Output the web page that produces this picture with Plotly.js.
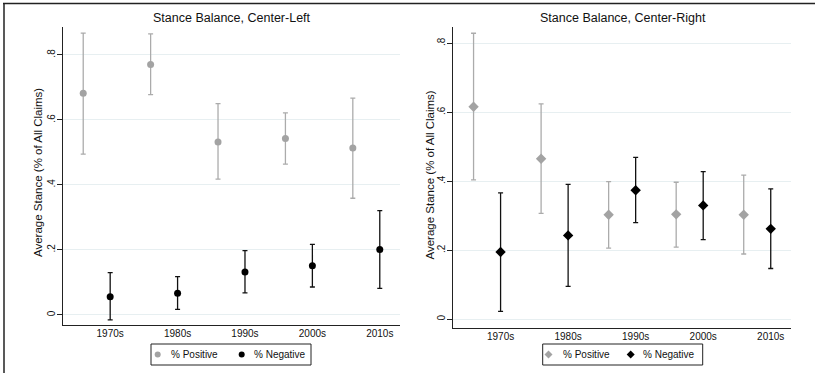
<!DOCTYPE html>
<html><head><meta charset="utf-8">
<script src="https://cdn.plot.ly/plotly-3.0.1.min.js"></script>
<style>html,body{margin:0;padding:0;background:#fff}#chart{width:815px;height:373px}</style>
</head><body><div id="chart"></div>
<script>
// ---- data ----
const decades = ['1970s', '1980s', '1990s', '2000s', '2010s'];
const yTickVals = [0, 0.2, 0.4, 0.6, 0.8];
const yTickText = ['0', '.2', '.4', '.6', '.8'];
const seriesNames = ['% Positive', '% Negative'];

// Center-Left
const leftPosMean = [0.682, 0.771, 0.532, 0.543, 0.514];
const leftPosLo   = [0.495, 0.678, 0.418, 0.464, 0.359];
const leftPosHi   = [0.867, 0.865, 0.650, 0.622, 0.667];
const leftNegMean = [0.056, 0.067, 0.132, 0.151, 0.201];
const leftNegLo   = [-0.015, 0.017, 0.068, 0.086, 0.082];
const leftNegHi   = [0.130, 0.118, 0.198, 0.217, 0.321];

// Center-Right
const rightPosMean = [0.616, 0.465, 0.303, 0.304, 0.303];
const rightPosLo   = [0.404, 0.307, 0.206, 0.209, 0.189];
const rightPosHi   = [0.829, 0.624, 0.399, 0.397, 0.418];
const rightNegMean = [0.195, 0.243, 0.374, 0.330, 0.262];
const rightNegLo   = [0.023, 0.095, 0.280, 0.231, 0.147];
const rightNegHi   = [0.366, 0.391, 0.469, 0.428, 0.378];

// ---- layout helpers ----
const W = 815, H = 373;
const px = v => v / W;
const py = v => 1 - v / H;
const OFFSET = 0.4;
const xNeg = decades.map((d, i) => i + 1);
const xPos = decades.map((d, i) => i + 1 - OFFSET);
const GRAY = '#a3a3a3', GRAYBAR = '#ababab', BLACK = '#000000';
const FONT = 'Liberation Sans, Arial, Helvetica, sans-serif';
const gridColor = '#e7eff1';

function series(x, mean, lo, hi, name, color, barColor, symbol, size, xa, ya) {
  return {
    type: 'scatter', mode: 'markers', name: name, showlegend: false,
    x: x, y: mean, xaxis: xa, yaxis: ya,
    marker: {color: color, size: size, symbol: symbol},
    error_y: {type: 'data', symmetric: false,
      array: hi.map((h, i) => h - mean[i]),
      arrayminus: lo.map((l, i) => mean[i] - l),
      color: barColor, thickness: 1.3, width: 2.5}
  };
}

const traces = [
  series(xPos, leftPosMean, leftPosLo, leftPosHi, seriesNames[0], GRAY, GRAYBAR, 'circle', 7, 'x', 'y'),
  series(xNeg, leftNegMean, leftNegLo, leftNegHi, seriesNames[1], BLACK, '#111', 'circle', 7, 'x', 'y'),
  series(xPos, rightPosMean, rightPosLo, rightPosHi, seriesNames[0], GRAY, GRAYBAR, 'diamond', 8, 'x2', 'y2'),
  series(xNeg, rightNegMean, rightNegLo, rightNegHi, seriesNames[1], BLACK, '#111', 'diamond', 8, 'x2', 'y2')
];

function xAxis(domain, anchor) {
  return {domain: domain, anchor: anchor, range: [0.3, 5.3],
    tickvals: [1, 2, 3, 4, 5], ticktext: decades, ticks: '', ticklabelstandoff: -1,
    showline: true, linecolor: '#222', linewidth: 1, showgrid: false, zeroline: false,
    tickfont: {size: 10, color: '#111', family: FONT}, fixedrange: true};
}
function yAxis(domain, range, anchor) {
  return {domain: domain, anchor: anchor, range: range,
    tickvals: yTickVals, ticktext: yTickText, tickangle: -90, ticklabelstandoff: -2,
    ticks: 'outside', ticklen: 5, tickcolor: '#222', tickwidth: 1,
    showline: true, linecolor: '#222', linewidth: 1,
    showgrid: true, gridcolor: gridColor, gridwidth: 1, zeroline: false,
    tickfont: {size: 10, color: '#111', family: FONT}, fixedrange: true};
}

// ---- legends (box + symbols + real text) ----
const annotations = [];
const shapes = [];
function addText(text, x, y, size, opts) {
  annotations.push(Object.assign({text: text, xref: 'paper', yref: 'paper', x: px(x), y: py(y),
    showarrow: false, xanchor: 'center', yanchor: 'middle',
    font: {size: size, family: FONT, color: '#111'}}, opts || {}));
}
function legendBox(x0, x1, y0, y1) {
  shapes.push({type: 'rect', xref: 'paper', yref: 'paper', x0: px(x0), x1: px(x1), y0: py(y1), y1: py(y0),
    line: {color: '#222', width: 1}, fillcolor: 'rgba(0,0,0,0)'});
}
function circleSym(cx, cy, r, color) {
  shapes.push({type: 'circle', xref: 'paper', yref: 'paper', x0: px(cx - r), x1: px(cx + r),
    y0: py(cy + r), y1: py(cy - r), line: {width: 0}, fillcolor: color});
}
function diamondSym(cx, cy, r, color) {
  const p = `M ${px(cx)},${py(cy - r)} L ${px(cx + r)},${py(cy)} L ${px(cx)},${py(cy + r)} L ${px(cx - r)},${py(cy)} Z`;
  shapes.push({type: 'path', xref: 'paper', yref: 'paper', path: p, line: {width: 0}, fillcolor: color});
}

const LY = 354.5;
legendBox(151, 311, 344, 365);
circleSym(157.7, LY, 3, GRAY);
addText(seriesNames[0], 169, LY, 10, {xanchor: 'left'});
circleSym(241.7, LY, 3, BLACK);
addText(seriesNames[1], 251.5, LY, 10, {xanchor: 'left'});

legendBox(542.7, 702.7, 344, 365);
diamondSym(548.5, LY, 4, GRAY);
addText(seriesNames[0], 561, LY, 10, {xanchor: 'left'});
diamondSym(630.7, LY, 4, BLACK);
addText(seriesNames[1], 640.5, LY, 10, {xanchor: 'left'});

// titles
addText('Stance Balance, Center-Left', 231.5, 18, 12.5);
addText('Stance Balance, Center-Right', 622.5, 18, 12.5);
addText('Average Stance (% of All Claims)', 38, 173, 11.5, {textangle: -90});
addText('Average Stance (% of All Claims)', 429.5, 175, 11.5, {textangle: -90});

// outer frame
shapes.push({type: 'line', xref: 'paper', yref: 'paper', x0: px(3), x1: 1, y0: py(3.5), y1: py(3.5),
  line: {color: '#222', width: 1.5}});
shapes.push({type: 'line', xref: 'paper', yref: 'paper', x0: px(4), x1: px(4), y0: py(3), y1: 0,
  line: {color: '#222', width: 1.5}});

const layout = {
  width: W, height: H, margin: {l: 0, r: 0, t: 0, b: 0},
  paper_bgcolor: '#fff', plot_bgcolor: '#fff',
  font: {family: FONT, color: '#111'},
  showlegend: false,
  xaxis: xAxis([px(63), px(400)], 'y'),
  yaxis: yAxis([py(325), py(26.7)], [-0.031, 0.887], 'x'),
  xaxis2: xAxis([px(453.3), px(791)], 'y2'),
  yaxis2: yAxis([py(327.5), py(26.7)], [-0.024, 0.848], 'x2'),
  annotations: annotations,
  shapes: shapes
};

Plotly.newPlot('chart', traces, layout, {displayModeBar: false, staticPlot: true});
</script>
</body></html>
